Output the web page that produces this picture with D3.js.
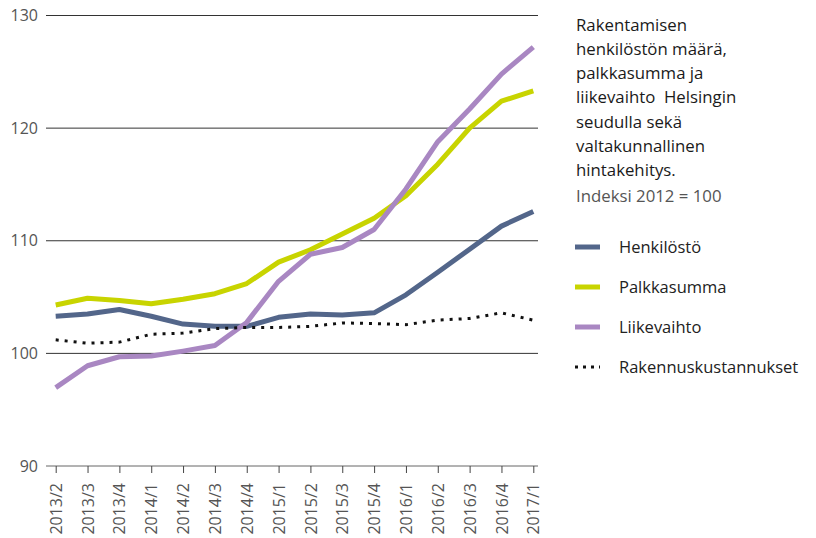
<!DOCTYPE html>
<html><head><meta charset="utf-8">
<script src="https://cdn.jsdelivr.net/npm/d3@7"></script>
<style>body{margin:0;background:#fff}svg{display:block}text{font-family:"Open Sans",sans-serif}</style>
</head><body><svg id="c" width="816" height="538"></svg>
<script>
const categories=["2013/2","2013/3","2013/4","2014/1","2014/2","2014/3","2014/4","2015/1","2015/2","2015/3","2015/4","2016/1","2016/2","2016/3","2016/4","2017/1"];
const henkilosto=[103.3,103.5,103.9,103.3,102.6,102.4,102.4,103.2,103.5,103.4,103.6,105.2,107.2,109.25,111.3,112.6];
const palkkasumma=[104.3,104.9,104.7,104.4,104.8,105.3,106.2,108.1,109.2,110.6,112.0,114.0,116.8,120.0,122.4,123.3];
const liikevaihto=[96.96,98.9,99.7,99.76,100.2,100.7,102.75,106.4,108.8,109.4,111.0,114.6,118.8,121.7,124.8,127.2];
const rakennuskustannukset=[101.2,100.9,101.0,101.7,101.8,102.2,102.3,102.3,102.4,102.7,102.65,102.55,102.95,103.1,103.6,102.95];
const yTicks=[90,100,110,120,130];
const seriesNames=["Henkilöstö","Palkkasumma","Liikevaihto","Rakennuskustannukset"];
const titleLines=["Rakentamisen","henkilöstön määrä,","palkkasumma ja","liikevaihto  Helsingin","seudulla sekä","valtakunnallinen","hintakehitys."];
const subtitle="Indeksi 2012 = 100";

const series=[
 {name:seriesNames[0],values:henkilosto,color:"#53668a",dash:null,w:5},
 {name:seriesNames[1],values:palkkasumma,color:"#c8d400",dash:null,w:5},
 {name:seriesNames[2],values:liikevaihto,color:"#a987c2",dash:null,w:5},
 {name:seriesNames[3],values:rakennuskustannukset,color:"#111",dash:"3,6",w:3}
];
const svg=d3.select("#c");
const x=d3.scalePoint().domain(categories).range([55.7,533.3]);
const y=d3.scaleLinear().domain([90,130]).range([466,15.5]);

svg.append("g").selectAll("line").data(yTicks).join("line")
 .attr("x1",46).attr("x2",538).attr("y1",d=>y(d)).attr("y2",d=>y(d))
 .attr("stroke",d=>d===90?"#666":"#333").attr("stroke-width",1);
svg.append("g").selectAll("text").data(yTicks).join("text")
 .attr("x",38).attr("y",d=>y(d)).attr("dy","0.35em").attr("text-anchor","end")
 .attr("font-size",16).attr("fill","#555").text(d=>d);

const xa=svg.append("g").attr("transform","translate(0,466)").call(d3.axisBottom(x).tickSize(7).tickSizeOuter(0));
xa.select(".domain").remove();
xa.selectAll(".tick line").attr("stroke","#444");
xa.selectAll(".tick text").attr("font-size",16).attr("fill","#555").attr("font-family","'Open Sans',sans-serif")
 .attr("transform","rotate(-90)").attr("text-anchor","end").attr("x",-17).attr("y",0).attr("dy","0.35em");

const line=d3.line().x((d,i)=>x(categories[i])).y(d=>y(d));
svg.append("g").selectAll("path").data(series).join("path")
 .attr("d",d=>line(d.values)).attr("fill","none").attr("stroke",d=>d.color)
 .attr("stroke-width",d=>d.w).attr("stroke-dasharray",d=>d.dash)
 .attr("stroke-linejoin","round");

const t=svg.append("text").attr("x",576).attr("font-size",16.8).attr("fill","#1a1a1a").attr("font-weight",500).style("white-space","pre");
t.selectAll("tspan").data(titleLines).join("tspan").attr("x",576).attr("y",(d,i)=>30.5+i*24.3).text(d=>d);
svg.append("text").attr("x",576).attr("y",202).attr("font-size",16.8).attr("fill","#555").text(subtitle);

const lg=svg.append("g").selectAll("g").data(series).join("g").attr("transform",(d,i)=>`translate(0,${247+i*40})`);
lg.append("line").attr("x1",575).attr("x2",600).attr("stroke",d=>d.color).attr("stroke-width",d=>d.w)
 .attr("stroke-dasharray",d=>d.dash?"3,5":null);
lg.append("text").attr("x",619).attr("dy","0.35em").attr("font-size",16.5).attr("fill","#222").text(d=>d.name);
</script></body></html>
